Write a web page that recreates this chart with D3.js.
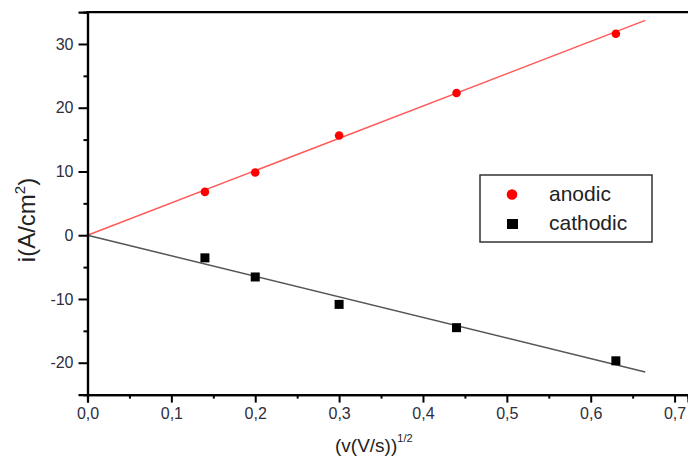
<!DOCTYPE html>
<html><head><meta charset="utf-8">
<script src="https://cdn.jsdelivr.net/npm/d3@7"></script>
<style>body{margin:0;background:#fff}svg{display:block}text{font-family:"Liberation Sans",Arial,sans-serif}</style>
</head><body><svg id="c" width="688" height="465"></svg>
<script>
const xVals = [0.14, 0.2, 0.3, 0.44, 0.63];
const anodic = [6.8, 9.85, 15.65, 22.3, 31.6];
const cathodic = [-3.55, -6.55, -10.85, -14.5, -19.7];
const fitX = [0, 0.665];
const anodicFit = [0, 33.7];
const cathodicFit = [0, -21.45];
const xTicks = [0, 0.1, 0.2, 0.3, 0.4, 0.5, 0.6, 0.7];
const xMinor = [0.05, 0.15, 0.25, 0.35, 0.45, 0.55, 0.65];
const yTicks = [-20, -10, 0, 10, 20, 30];
const yMinor = [-25, -15, -5, 5, 15, 25];
const legendLabels = ["anodic", "cathodic"];

const svg = d3.select("#c");
const x = d3.scaleLinear().domain([0, 0.716]).range([87.5, 688]);
const y = d3.scaleLinear().domain([-25, 35]).range([394.6, 12.1]);
const fmt = d => d3.format(".1f")(d).replace(".", ",");

// fit lines
const line = d3.line().x(d => x(d[0])).y(d => y(d[1]));
svg.append("path").datum(fitX.map((v, i) => [v, anodicFit[i]])).attr("d", line)
  .attr("stroke", "#ff5a5a").attr("stroke-width", 1.5).attr("fill", "none");
svg.append("path").datum(fitX.map((v, i) => [v, cathodicFit[i]])).attr("d", line)
  .attr("stroke", "#555").attr("stroke-width", 1.5).attr("fill", "none");

// points
svg.selectAll("circle.a").data(xVals).enter().append("circle").attr("class", "a")
  .attr("cx", (d) => x(d)).attr("cy", (d, i) => y(anodic[i])).attr("r", 4.3).attr("fill", "#ff0000");
svg.selectAll("rect.c").data(xVals).enter().append("rect").attr("class", "c")
  .attr("x", d => x(d) - 4.5).attr("y", (d, i) => y(cathodic[i]) - 4.5)
  .attr("width", 9).attr("height", 9).attr("fill", "#000");

// axes
const gx = svg.append("g").attr("transform", `translate(0,${y(-25)})`)
  .call(d3.axisBottom(x).tickValues(xTicks).tickFormat(fmt).tickSize(8).tickPadding(3));
const gxm = svg.append("g").attr("transform", `translate(0,${y(-25)})`)
  .call(d3.axisBottom(x).tickValues(xMinor).tickFormat("").tickSize(4));
const gy = svg.append("g").attr("transform", `translate(${x(0)},0)`)
  .call(d3.axisLeft(y).tickValues(yTicks).tickFormat(d => String(d)).tickSize(9).tickPadding(5));
const gym = svg.append("g").attr("transform", `translate(${x(0)},0)`)
  .call(d3.axisLeft(y).tickValues(yMinor).tickFormat("").tickSize(4));
[gx, gxm, gy, gym].forEach(g => {
  g.select(".domain").attr("stroke", "#000").attr("stroke-width", 2.2);
  g.selectAll(".tick line").attr("stroke", "#000").attr("stroke-width", 2);
  g.selectAll(".tick text").attr("fill", "#2e2e3c").attr("font-size", 16)
    .attr("font-family", "Liberation Sans, Arial, sans-serif");
});
gx.selectAll(".tick text").attr("dy", "0.85em");
// top frame line
svg.append("line").attr("x1", x(0) - 1).attr("x2", 688).attr("y1", y(35)).attr("y2", y(35))
  .attr("stroke", "#000").attr("stroke-width", 2.2);

// axis titles
const yt = svg.append("text").attr("transform", "translate(35,220) rotate(-90)")
  .attr("text-anchor", "middle").attr("font-size", 24).attr("fill", "#222");
yt.append("tspan").text("i(A/cm");
yt.append("tspan").text("2").attr("font-size", 15).attr("dy", -10);
yt.append("tspan").text(")").attr("dy", 10);

const xt = svg.append("text").attr("x", 335).attr("y", 452).attr("font-size", 19).attr("fill", "#222");
xt.append("tspan").text("(v(V/s))");
xt.append("tspan").text("1/2").attr("font-size", 11).attr("dy", -10);

// legend
const lg = svg.append("g");
lg.append("rect").attr("x", 480).attr("y", 175).attr("width", 172).attr("height", 67)
  .attr("fill", "#fff").attr("stroke", "#333").attr("stroke-width", 1.5);
lg.append("circle").attr("cx", 512).attr("cy", 194.5).attr("r", 5.3).attr("fill", "#ff0000");
lg.append("rect").attr("x", 507).attr("y", 219).attr("width", 11).attr("height", 10).attr("fill", "#000");
legendLabels.forEach((t, i) => {
  lg.append("text").attr("x", 549).attr("y", 201 + i * 29).attr("font-size", 21).attr("fill", "#222").text(t);
});
</script></body></html>
